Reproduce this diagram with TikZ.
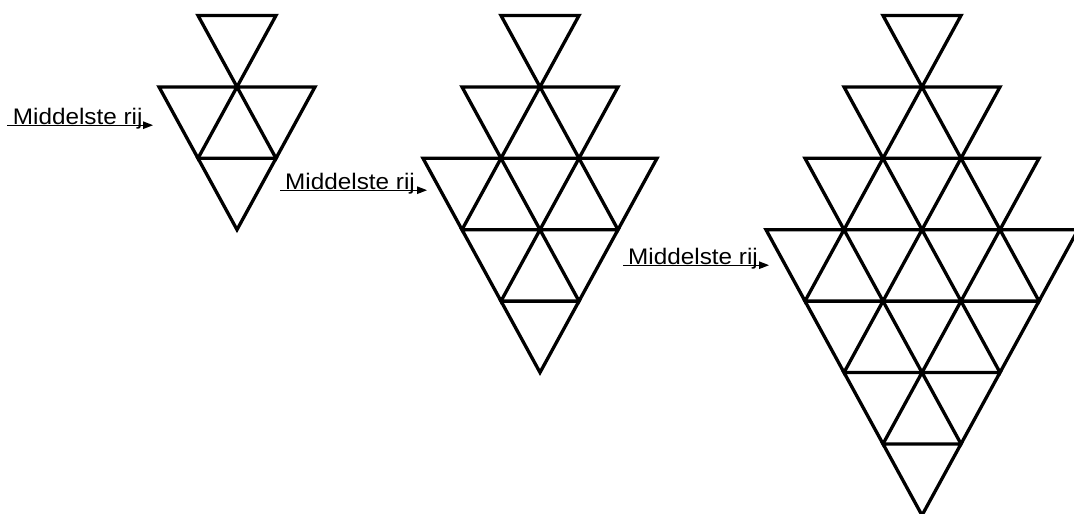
\documentclass[tikz,border=0pt]{standalone}
\usepackage{fontspec}
\newfontfamily\labfont[FakeStretch=1.08]{Liberation Sans}
\usetikzlibrary{arrows.meta}
\newcommand\trifig[2]{%
  \pgfmathtruncatemacro\nrows{2*#2+1}%
  \foreach \rr in {1,...,\nrows}{%
    \pgfmathtruncatemacro\ww{\rr<=#2+1 ? \rr : 2*(#2+1)-\rr}%
    \pgfmathtruncatemacro\wm{\ww-1}%
    \foreach \ii in {0,...,\wm}{%
      \pgfmathsetmacro\xl{#1-\ww*78/2+\ii*78}%
      \pgfmathsetmacro\yt{15.5+(\rr-1)*71.4}%
      \draw[tri] (\xl,\yt) -- ++(78,0) -- ++(-39,71.4) -- cycle;
    }%
  }%
}
\begin{document}
\begin{tikzpicture}[x=1pt,y=-1pt,
  tri/.style={line width=3.3pt,black,line join=miter},
  lab/.style={font=\labfont\fontsize{22.5}{22.5}\selectfont,inner sep=0pt,anchor=base west},
  ptr/.style={line width=1.3pt,-{Triangle[length=10pt,width=7.5pt]}}]
\fill[white] (0,0) rectangle (1074,514);
\useasboundingbox (0,0) rectangle (1074,514);
\clip (0,0) rectangle (1074,514);
\trifig{237}{1}
\trifig{540}{2}
\trifig{922}{3}
% labels
\node[lab] (t1) at (12.7,124) {Middelste rij};
\coordinate (s1) at (7,125.2);
\coordinate (e1) at (153,125.2);
\draw[ptr] (s1) -- (e1);
\node[lab] (t2) at (285,189) {Middelste rij};
\coordinate (s2) at (280,190.2);
\coordinate (e2) at (427,190.2);
\draw[ptr] (s2) -- (e2);
\node[lab] (t3) at (628,264) {Middelste rij};
\coordinate (s3) at (623,265.2);
\coordinate (e3) at (769,265.2);
\draw[ptr] (s3) -- (e3);
\end{tikzpicture}
\end{document}
